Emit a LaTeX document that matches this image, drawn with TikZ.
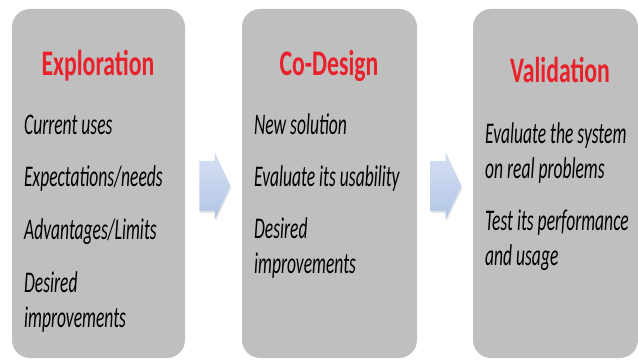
\documentclass[tikz,border=0pt]{standalone}
\usepackage{fontspec}
\setmainfont{Carlito}
\usetikzlibrary{positioning, calc, shapes.arrows, shadows}
\definecolor{phasegray}{HTML}{BFBFBF}
\definecolor{phasered}{HTML}{E8212B}
\definecolor{flowtop}{HTML}{D5E0F2}
\definecolor{flowbot}{HTML}{B2C5E6}
% two lines, baseline on the first one
\newcommand{\twolines}[2]{\vtop{\hbox{#1}\hbox{#2}}}

\begin{document}
\begin{tikzpicture}[
    x=1pt, y=-1pt,
    phase/.style={fill=phasegray, rounded corners=18pt, minimum width=#1, minimum height=349pt, inner sep=0pt},
    title/.style={font=\fontsize{36}{36}\selectfont\bfseries, text=phasered, xscale=0.66, anchor=base, inner sep=0pt},
    item/.style={font=\fontsize{30}{35}\selectfont\itshape, xscale=0.585, anchor=base west, inner sep=0pt},
    flow/.style={single arrow, single arrow tip angle=130, single arrow head indent=0pt,
        minimum height=31pt, minimum width=68pt, inner xsep=0pt, inner ysep=20pt, top color=flowtop, bottom color=flowbot,
        drop shadow={opacity=0.2, shadow xshift=1pt, shadow yshift=-2pt}},
]
    \useasboundingbox (0,0) rectangle (638,361);
    % the three phases
    \node[phase=173pt] (ex) at (98.5,183.5) {};
    \node[phase=175pt] (cd) at (329.5,183.5) {};
    \node[phase=165pt] (va) at (555.5,183.5) {};
    \node[flow, right=14pt of ex, yshift=-2.5pt] (a1) {};
    \node[flow, right=13pt of cd, yshift=-2.5pt] (a2) {};

    \node[title] (ex-t) at (98,76) {Exploration};
    \node[item] (ex-1) at (24,135) {Current uses};
    \node[item] (ex-2) at (24,186) {Expectations/needs};
    \node[item] (ex-3) at (24,239) {Advantages/Limits};
    \node[item] (ex-4) at (24,292) {\twolines{Desired}{improvements}};

    \node[title] (cd-t) at (329,76) {Co-Design};
    \node[item] (cd-1) at (254,135) {New solution};
    \node[item] (cd-2) at (254,186) {Evaluate its usability};
    \node[item] (cd-3) at (254,238) {\twolines{Desired}{improvements}};

    \node[title] (va-t) at (560,83) {Validation};
    \node[item] (va-1) at (485,143) {\twolines{Evaluate the system}{on real problems}};
    \node[item] (va-2) at (485,230) {\twolines{Test its performance}{and usage}};
\end{tikzpicture}
\end{document}
